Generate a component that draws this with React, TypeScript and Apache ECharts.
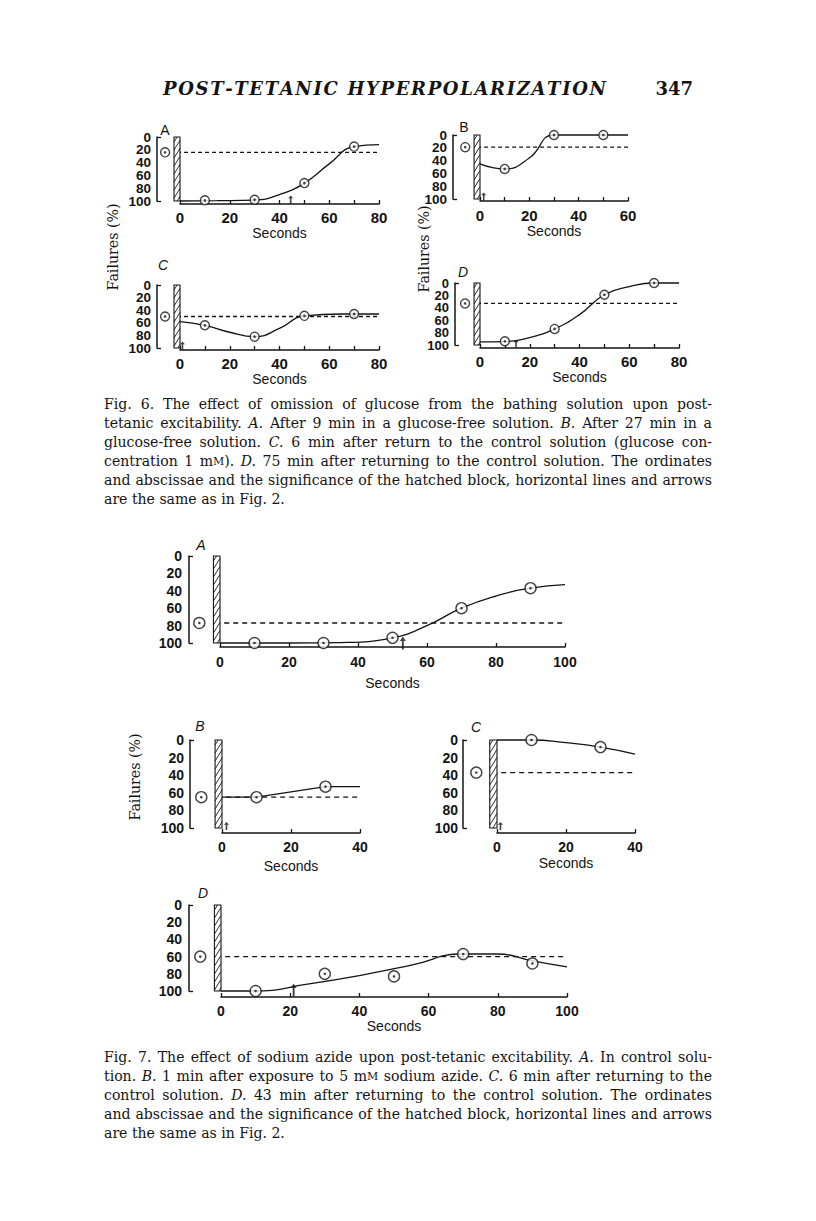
import React, { useEffect, useRef } from "react";
import * as echarts from "echarts";

// ---------------- Data ----------------
const yLabelsEven = [0, 40, 80]; // drawn on the first y axis of a panel
const yLabelsOdd = [20, 60, 100]; // drawn on the second, so that tight labels never collide
const yBracketTicks = [0, 100];
const fig6Labels80 = [0, 20, 40, 60, 80];
const fig6Labels60 = [0, 20, 40, 60];
const fig7Labels100 = [0, 20, 40, 60, 80, 100];
const fig7Labels40 = [0, 20, 40];

const controlX = -6; // control reading, before the tetanus
const dashStartX = -4;

// Fig. 6
const f6aControl = 24;
const f6aPoints = [[10, 99], [30, 98], [50, 72], [70, 15]];
const f6aCurve = [[0, 100], [15, 99.5], [30, 98.5], [40, 90], [50, 72], [60, 42], [70, 15], [80, 12]];
const f6aArrow = 44.5;

const f6bControl = 19;
const f6bPoints = [[10, 53], [30, 0], [50, 0]];
const f6bCurve = [[0, 45], [10, 53], [20, 36], [30, 0], [45, 0], [60, 0]];
const f6bArrow = 1.5;

const f6cControl = 50;
const f6cPoints = [[10, 64], [30, 82], [50, 49], [70, 46]];
const f6cCurve = [[0, 58], [10, 64], [20, 75], [30, 82], [40, 69], [50, 49], [65, 46], [80, 46]];
const f6cArrow = 1;

const f6dControl = 33;
const f6dPoints = [[10, 94], [30, 74], [50, 19], [70, 0]];
const f6dCurve = [[0, 95], [10, 94.5], [20, 88], [30, 74], [40, 51], [50, 19], [60, 6], [70, 0], [80, 0]];
const f6dArrow = 14.5;

// Fig. 7
const f7aControl = 77;
const f7aPoints = [[10, 100], [30, 100], [50, 94], [70, 60], [90, 37]];
const f7aCurve = [[0, 100], [20, 100], [35, 99.5], [50, 94], [60, 80], [70, 60], [80, 46], [90, 37], [100, 33]];
const f7aArrow = 53;

const f7bControl = 65;
const f7bPoints = [[10, 65], [30, 53]];
const f7bCurve = [[0, 65], [10, 65], [30, 53], [40, 53]];
const f7bArrow = 1.3;

const f7cControl = 37;
const f7cPoints = [[10, 0], [30, 8]];
const f7cCurve = [[0, 0], [10, 0], [20, 3], [30, 8], [40, 16]];
const f7cArrow = 1;

const f7dControl = 60;
const f7dPoints = [[10, 100], [30, 80], [50, 83], [70, 57], [90, 68]];
const f7dCurve = [[0, 100], [10, 100], [25, 92], [40, 82], [55, 70], [70, 57], [80, 57], [90, 65], [100, 72]];
const f7dArrow = 21;

// Texts
const headerText = "POST-TETANIC HYPERPOLARIZATION";
const pageNumber = "347";
const axisTitleY = "Failures (%)";
const axisTitleX = "Seconds";
const fig6Caption = [
  "Fig. 6.  The effect of omission of glucose from the bathing solution upon post-",
  "tetanic excitability. *A.* After 9 min in a glucose-free solution. *B.* After 27 min in a",
  "glucose-free solution. *C.* 6 min after return to the control solution (glucose con-",
  "centration 1 m^M^). *D.* 75 min after returning to the control solution. The ordinates",
  "and abscissae and the significance of the hatched block, horizontal lines and arrows",
  "are the same as in Fig. 2.",
];
const fig7Caption = [
  "Fig. 7. The effect of sodium azide upon post-tetanic excitability. *A.* In control solu-",
  "tion. *B.* 1 min after exposure to 5 m^M^ sodium azide. *C.* 6 min after returning to the",
  "control solution. *D.* 43 min after returning to the control solution. The ordinates",
  "and abscissae and the significance of the hatched block, horizontal lines and arrows",
  "are the same as in Fig. 2.",
];

// ---------------- Layout / style ----------------
const W = 816;
const H = 1221;
const INK = "#141414";
const SANS = "Liberation Sans";
const SERIF = "DejaVu Serif";
const ARROW = "path://M5,0 L10,7 L6.6,7 L6.6,20 L3.4,20 L3.4,7 L0,7 Z";

type Panel = {
  grid: { left: number; top: number; width: number; height: number };
  xMax: number; xStep: number; xLabels: number[];
  yOff: number; xOff: number; yMargin: number; xMargin: number; nameGap: number;
  control: number; points: number[][]; curve: number[][]; arrow: number;
  hatch: number; smooth: number | false; circle: number;
  arrowSize: number[]; arrowOff: number; fs: number; yfs: number; ylh: number;
  letter: string; letterPos: number[]; italic: boolean;
};

const panels: Panel[] = [
  { grid: { left: 180, top: 137, width: 199, height: 64 }, xMax: 80, xStep: 10, xLabels: fig6Labels80,
    yOff: 23, xOff: 3, yMargin: 6, xMargin: 6, nameGap: 19, control: f6aControl, points: f6aPoints, curve: f6aCurve,
    arrow: f6aArrow, hatch: -2.4, smooth: 0.5, circle: 9, arrowSize: [5, 8], arrowOff: -1.5, fs: 15, yfs: 13.5, ylh: 12,
    letter: "A", letterPos: [165, 130], italic: false },
  { grid: { left: 480, top: 135, width: 148, height: 64 }, xMax: 60, xStep: 10, xLabels: fig6Labels60,
    yOff: 27, xOff: 2, yMargin: 6, xMargin: 7, nameGap: 19, control: f6bControl, points: f6bPoints, curve: f6bCurve,
    arrow: f6bArrow, hatch: -2.4, smooth: 0.5, circle: 9, arrowSize: [5, 8], arrowOff: -2.5, fs: 15, yfs: 13.5, ylh: 12,
    letter: "B", letterPos: [464, 127], italic: false },
  { grid: { left: 180, top: 285, width: 199, height: 63 }, xMax: 80, xStep: 10, xLabels: fig6Labels80,
    yOff: 23, xOff: 2, yMargin: 6, xMargin: 6, nameGap: 20, control: f6cControl, points: f6cPoints, curve: f6cCurve,
    arrow: f6cArrow, hatch: -2.4, smooth: 0.5, circle: 9, arrowSize: [5, 8], arrowOff: -2.5, fs: 15, yfs: 13.5, ylh: 12,
    letter: "C", letterPos: [163, 265], italic: true },
  { grid: { left: 480, top: 283, width: 199, height: 62 }, xMax: 80, xStep: 10, xLabels: fig6Labels80,
    yOff: 25, xOff: 3, yMargin: 6, xMargin: 6, nameGap: 20, control: f6dControl, points: f6dPoints, curve: f6dCurve,
    arrow: f6dArrow, hatch: -2.4, smooth: 0.5, circle: 9, arrowSize: [5, 8], arrowOff: -1.5, fs: 15, yfs: 13, ylh: 11,
    letter: "D", letterPos: [463, 272], italic: true },
  { grid: { left: 220, top: 556, width: 345, height: 87 }, xMax: 100, xStep: 20, xLabels: fig7Labels100,
    yOff: 31, xOff: 4, yMargin: 7, xMargin: 8, nameGap: 29, control: f7aControl, points: f7aPoints, curve: f7aCurve,
    arrow: f7aArrow, hatch: -1.9, smooth: 0.5, circle: 11, arrowSize: [6, 13], arrowOff: 0, fs: 14, yfs: 14, ylh: 16,
    letter: "A", letterPos: [201, 545], italic: true },
  { grid: { left: 222, top: 740, width: 138, height: 88 }, xMax: 40, xStep: 20, xLabels: fig7Labels40,
    yOff: 32, xOff: 5, yMargin: 6, xMargin: 7, nameGap: 26, control: f7bControl, points: f7bPoints, curve: f7bCurve,
    arrow: f7bArrow, hatch: -2, smooth: false, circle: 11, arrowSize: [5, 8], arrowOff: -2, fs: 14, yfs: 14, ylh: 16,
    letter: "B", letterPos: [200, 726], italic: true },
  { grid: { left: 497, top: 740, width: 138, height: 88 }, xMax: 40, xStep: 20, xLabels: fig7Labels40,
    yOff: 34, xOff: 5, yMargin: 5, xMargin: 7, nameGap: 23, control: f7cControl, points: f7cPoints, curve: f7cCurve,
    arrow: f7cArrow, hatch: -2.1, smooth: 0.5, circle: 11, arrowSize: [5, 8], arrowOff: -2, fs: 14, yfs: 14, ylh: 16,
    letter: "C", letterPos: [476, 727], italic: true },
  { grid: { left: 221, top: 905, width: 346, height: 86 }, xMax: 100, xStep: 20, xLabels: fig7Labels100,
    yOff: 32, xOff: 6, yMargin: 7, xMargin: 7, nameGap: 22, control: f7dControl, points: f7dPoints, curve: f7dCurve,
    arrow: f7dArrow, hatch: -1.9, smooth: 0.5, circle: 11, arrowSize: [6, 13], arrowOff: -1, fs: 14, yfs: 14, ylh: 16,
    letter: "D", letterPos: [203, 893], italic: true },
];

// ---------------- Text measuring helpers ----------------
let ctx: CanvasRenderingContext2D | null = null;
function measure(text: string, size: number, family: string, weight = "normal", style = "normal") {
  if (!ctx) ctx = document.createElement("canvas").getContext("2d");
  ctx!.font = `${style} ${weight} ${size}px "${family}"`;
  return ctx!.measureText(text).width;
}

function txt(x: number, y: number, text: string, size: number, family: string, o: any = {}) {
  return {
    type: "text", x, y, silent: true, rotation: o.rotation || 0,
    style: {
      text, fontSize: size, fontFamily: family, fontWeight: o.weight || "normal",
      fontStyle: o.style || "normal", fill: INK, align: o.align || "left", verticalAlign: "middle",
    },
  };
}

type Seg = { t: string; it: boolean; sc: boolean };
function parseWord(w: string): Seg[] {
  const segs: Seg[] = [];
  let it = false, sc = false, cur = "";
  for (const ch of w) {
    if (ch === "*" || ch === "^") {
      if (cur) segs.push({ t: cur, it, sc });
      cur = "";
      if (ch === "*") it = !it; else sc = !sc;
    } else cur += ch;
  }
  if (cur) segs.push({ t: cur, it, sc });
  return segs;
}
function segW(s: Seg, size: number) {
  return measure(s.t, s.sc ? size * 0.78 : size, SERIF, "normal", s.it ? "italic" : "normal");
}
function naturalWidth(line: string, size: number) {
  const words = line.split(/\s+/);
  const sp = measure(" ", size, SERIF);
  return words.reduce((a, w) => a + parseWord(w).reduce((b, s) => b + segW(s, size), 0), 0) + sp * (words.length - 1);
}
function captionElements(lines: string[], top: number, step: number, left: number, right: number) {
  const base = 14;
  const maxW = Math.max(...lines.slice(0, -1).map((l) => naturalWidth(l, base)));
  const size = Math.min(15, base * (right - left - 6) / maxW);
  const els: any[] = [];
  lines.forEach((line, li) => {
    const y = top + li * step;
    const words = line.split(/\s+/).map(parseWord);
    const widths = words.map((segs) => segs.reduce((a, s) => a + segW(s, size), 0));
    const total = widths.reduce((a, b) => a + b, 0);
    const justify = li < lines.length - 1;
    const gap = justify ? (right - left - total) / (words.length - 1) : measure(" ", size, SERIF);
    let x = left;
    words.forEach((segs, wi) => {
      let sx = x;
      segs.forEach((s) => {
        els.push(txt(sx, s.sc ? y + 0.5 : y, s.t, s.sc ? size * 0.78 : size, SERIF, { style: s.it ? "italic" : "normal" }));
        sx += segW(s, size);
      });
      x += widths[wi] + gap;
    });
  });
  return els;
}
function spreadText(text: string, left: number, right: number, y: number, size: number, family: string, weight: string, style: string) {
  const chars = Array.from(text);
  const ws = chars.map((c) => measure(c, size, family, weight, style));
  const total = ws.reduce((a, b) => a + b, 0);
  const gap = (right - left - total) / (chars.length - 1);
  let x = left;
  return chars.map((c, i) => {
    const el = txt(x, y, c, size, family, { weight, style });
    x += ws[i] + gap;
    return el;
  });
}

// ---------------- Hatched block ----------------
const hatchRender = (_p: any, api: any) => {
  const tl = api.coord([api.value(0), api.value(1)]);
  const br = api.coord([api.value(2), api.value(3)]);
  const x0 = tl[0], y0 = tl[1], x1 = br[0], y1 = br[1];
  const w = x1 - x0, h = y1 - y0;
  const rise = w * 1.6, step = 8;
  const children: any[] = [
    { type: "rect", shape: { x: x0, y: y0, width: w, height: h }, style: { fill: "#fff", stroke: INK, lineWidth: 1.1 } },
  ];
  for (let ya = y0 + 5; ya < y1 + rise; ya += step) {
    const t0 = Math.max(0, (ya - y1) / rise);
    const t1 = Math.min(1, (ya - y0) / rise);
    if (t1 <= t0) continue;
    children.push({
      type: "line",
      shape: { x1: x0 + w * t0, y1: ya - rise * t0, x2: x0 + w * t1, y2: ya - rise * t1 },
      style: { stroke: INK, lineWidth: 0.9 },
    });
  }
  return { type: "group", children };
};

// ---------------- Option ----------------
function buildOption() {
  const grid: any[] = [], xAxis: any[] = [], yAxis: any[] = [], series: any[] = [];
  panels.forEach((p, i) => {
    grid.push({ ...p.grid, containLabel: false, outerBoundsMode: "none" });
    const labelFont = { color: INK, fontFamily: SANS, fontWeight: "bold" };
    xAxis.push({
      gridIndex: i, type: "value", min: 0, max: p.xMax, interval: p.xStep, offset: p.xOff, position: "bottom",
      axisLine: { show: true, onZero: false, lineStyle: { color: INK, width: 1.5 } },
      axisTick: { show: true, inside: true, length: 4, lineStyle: { color: INK, width: 1.3 } },
      axisLabel: {
        ...labelFont, fontSize: p.fs, margin: p.xMargin, showMinLabel: true, showMaxLabel: true, hideOverlap: false,
        formatter: (v: number) => (p.xLabels.includes(v) ? String(v) : ""),
      },
      splitLine: { show: false },
      name: axisTitleX, nameLocation: "middle", nameGap: p.nameGap,
      nameTextStyle: { color: INK, fontFamily: SANS, fontSize: 14, fontWeight: 500 },
    });
    // two y axes sharing one scale: each carries every other label
    [yLabelsEven, yLabelsOdd].forEach((labels, k) => {
      yAxis.push({
        gridIndex: i, type: "value", inverse: true, min: 0, max: 100, interval: 20, offset: p.yOff, position: "left",
        axisLine: { show: k === 0, onZero: false, lineStyle: { color: INK, width: 1.5 } },
        axisTick: { show: k === 0, inside: true, length: 4, customValues: yBracketTicks, lineStyle: { color: INK, width: 1.3 } },
        axisLabel: {
          ...labelFont, fontSize: p.yfs, lineHeight: p.ylh, margin: p.yMargin,
          showMinLabel: true, showMaxLabel: true, hideOverlap: false,
          formatter: (v: number) => (labels.includes(v) ? String(v) : ""),
        },
        splitLine: { show: false },
      });
    });
    const ax = { xAxisIndex: i, yAxisIndex: 2 * i, silent: true, clip: false };
    const pts = [[controlX, p.control], ...p.points];
    series.push(
      { ...ax, type: "line", data: [[dashStartX, p.control], [p.xMax, p.control]], symbol: "none", z: 2,
        lineStyle: { color: INK, width: 1.3, type: p.fs === 15 ? [4, 3] : [5, 4] } },
      { ...ax, type: "custom", data: [[p.hatch, 0, 0, 100]], renderItem: hatchRender, z: 3 },
      { ...ax, type: "line", data: p.curve, smooth: p.smooth, symbol: "none", z: 4,
        lineStyle: { color: INK, width: 1.3 } },
      { ...ax, type: "scatter", data: pts, symbol: "circle", symbolSize: p.circle, z: 5,
        itemStyle: { color: "#fff", borderColor: INK, borderWidth: 1.4 } },
      { ...ax, type: "scatter", data: pts, symbol: "circle", symbolSize: 2.6, z: 6, itemStyle: { color: INK } },
      { ...ax, type: "scatter", data: [[p.arrow, 100]], symbol: ARROW, symbolSize: p.arrowSize,
        symbolOffset: [0, p.arrowOff], z: 6, itemStyle: { color: INK } },
    );
  });

  const graphic: any[] = [];
  // header
  graphic.push(...spreadText(headerText, 163, 606, 88, 18, SERIF, "bold", "italic"));
  graphic.push(txt(693, 88, pageNumber, 18, SERIF, { weight: "bold", align: "right" }));
  // panel letters
  panels.forEach((p) => graphic.push(txt(p.letterPos[0], p.letterPos[1], p.letter, 14, SANS, { style: p.italic ? "italic" : "normal", align: "center" })));
  // vertical axis titles
  const ySize = 15 * 87 / measure(axisTitleY, 15, SERIF);
  [[113, 247], [424, 249], [135, 777]].forEach(([x, y]) =>
    graphic.push(txt(x, y, axisTitleY, ySize, SERIF, { rotation: Math.PI / 2, align: "center" })));
  // captions
  graphic.push(...captionElements(fig6Caption, 404, 19, 104, 712));
  graphic.push(...captionElements(fig7Caption, 1057, 19, 104, 712));

  return {
    animation: false,
    backgroundColor: "#fff",
    textStyle: { fontFamily: SANS },
    grid, xAxis, yAxis, series, graphic,
  };
}

export default function App() {
  const ref = useRef<HTMLDivElement>(null);
  useEffect(() => {
    const chart = echarts.init(ref.current!, null, { renderer: "svg", width: W, height: H });
    chart.setOption(buildOption() as any);
    return () => chart.dispose();
  }, []);
  return <div ref={ref} style={{ position: "absolute", left: 0, top: 0, width: W, height: H, background: "#fff" }} />;
}
